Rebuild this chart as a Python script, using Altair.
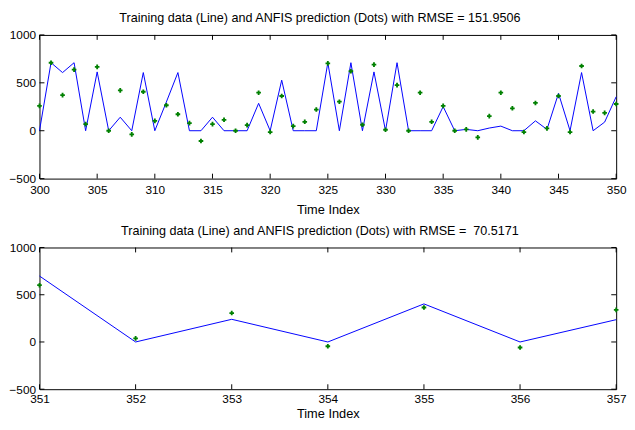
import altair as alt
import pandas as pd

# ---- data ----
t_top = list(range(300, 351))
actual_top = [0, 710, 607, 710, 0, 614, 0, 141, 0, 607,
              0, 300, 607, 0, 0, 141, 0, 0, 0, 286,
              0, 528, 0, 0, 0, 710, 0, 710, 0, 614,
              0, 710, 0, 0, 0, 252, 0, 14, 0, 28,
              48, 0, 0, 103, 14, 390, 0, 607, 0, 90,
              355]
pred_top = [259, 710, 372, 638, 69, 666, 0, 421, -38, 407,
            103, 266, 172, 79, -107, 69, 114, 0, 59, 397,
            -14, 362, 48, 93, 221, 703, 303, 621, 62, 690,
            10, 476, 0, 397, 93, 259, 0, 14, -69, 152,
            397, 234, -14, 290, 24, 362, -14, 676, 200, 186,
            279]

t_bot = [351, 352, 353, 354, 355, 356, 357]
actual_bot = [698, 0, 240, 0, 403, 0, 236]
pred_bot = [601, 38, 306, -45, 365, -59, 340]

xticks_top = [300, 305, 310, 315, 320, 325, 330, 335, 340, 345, 350]
xticks_bot = [351, 352, 353, 354, 355, 356, 357]
yticks = [-500, 0, 500, 1000]

title_top = "Training data (Line) and ANFIS prediction (Dots) with RMSE = 151.9506"
title_bot = "Training data (Line) and ANFIS prediction (Dots) with RMSE = \u00a070.5171"

FONT = "Liberation Sans"
W = 586


def panel(t, actual, pred, xticks, title, h, lab_pad, tit_pad):
    df = pd.DataFrame({"t": t, "v": actual, "p": pred})
    xt = pd.DataFrame({"t": xticks})
    yt = pd.DataFrame({"v": yticks})
    xdom = [t[0], t[-1]]
    X = alt.X("t:Q",
              scale=alt.Scale(domain=xdom, nice=False, zero=False),
              axis=alt.Axis(values=xticks, format="d", title="Time Index",
                            grid=False, domain=False, ticks=False,
                            labelFlush=False, labelPadding=lab_pad,
                            titlePadding=tit_pad,
                            titleFont=FONT, titleFontSize=13,
                            titleFontWeight="normal", titleColor="black"))
    Y = alt.Y("v:Q",
              scale=alt.Scale(domain=[-500, 1000], nice=False, zero=False),
              axis=alt.Axis(values=yticks, format="d", title=None,
                            grid=False, domain=False, ticks=False,
                            labelFlush=False, labelPadding=4))
    line = alt.Chart(df).mark_line(color="#0000ff", strokeWidth=1).encode(x=X, y=Y)
    pts = alt.Chart(df).mark_point(shape="cross", filled=True, color="#008000",
                                   size=22, opacity=1).encode(
        x=X, y=alt.Y("p:Q"))
    xb = alt.Chart(xt).mark_rule(color="black", strokeWidth=1).encode(
        x=X, y=alt.value(h), y2=alt.value(h - 5))
    xtop = alt.Chart(xt).mark_rule(color="black", strokeWidth=1).encode(
        x=X, y=alt.value(0), y2=alt.value(5))
    yl = alt.Chart(yt).mark_rule(color="black", strokeWidth=1).encode(
        y=Y, x=alt.value(0), x2=alt.value(5))
    yr = alt.Chart(yt).mark_rule(color="black", strokeWidth=1).encode(
        y=Y, x=alt.value(W - 5), x2=alt.value(W))
    return alt.layer(line, pts, xb, xtop, yl, yr).properties(
        width=W, height=h,
        title=alt.TitleParams(title, font=FONT, fontSize=12.8,
                              fontWeight="normal", color="black",
                              offset=4, anchor="middle", dx=-8))


top = panel(t_top, actual_top, pred_top, xticks_top, title_top, 146, 6, 8)
bot = panel(t_bot, actual_bot, pred_bot, xticks_bot, title_bot, 144, 5, 3)

chart = alt.vconcat(top, bot, spacing=7).properties(
    padding={"left": 0, "top": 0, "right": 0, "bottom": 0},
    background="white"
).configure_view(stroke="black", strokeWidth=1).configure_axis(
    labelFont=FONT, labelFontSize=12, labelColor="black"
)

chart.save("out.html", embed_options={"renderer": "svg", "actions": False})
